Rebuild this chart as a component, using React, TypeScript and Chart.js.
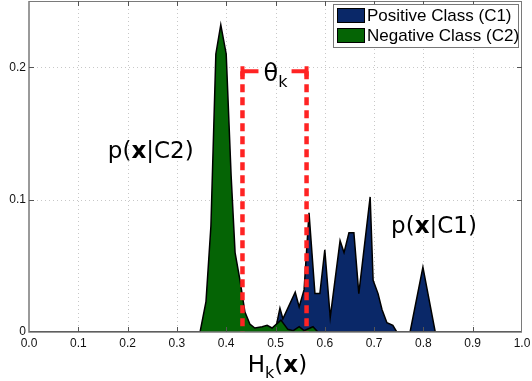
import React, { useEffect, useRef } from "react";
import { Chart, registerables } from "chart.js";

Chart.register(...registerables);

// ---- data ----
const positiveX = [0, 0.499, 0.509, 0.515, 0.540, 0.548, 0.558, 0.568, 0.580, 0.590, 0.600, 0.611, 0.631, 0.639, 0.649, 0.659, 0.669, 0.692, 0.698, 0.708, 0.716, 0.726, 0.738, 0.746, 0.773, 0.799, 0.824, 1];
const positiveY = [0, 0, 0.018, 0.010, 0.030, 0.019, 0.032, 0.090, 0.029, 0.029, 0.062, 0.011, 0.069, 0.060, 0.075, 0.075, 0.029, 0.102, 0.039, 0.029, 0.017, 0.007, 0.005, 0, 0, 0.049, 0, 0];
const negativeX = [0, 0.347, 0.359, 0.369, 0.379, 0.389, 0.400, 0.410, 0.418, 0.428, 0.438, 0.448, 0.458, 0.473, 0.483, 0.493, 0.511, 0.525, 0.536, 0.548, 0.558, 0.576, 0.586, 1];
const negativeY = [0, 0, 0.023, 0.08, 0.21, 0.232, 0.21, 0.118, 0.06, 0.039, 0.015, 0.006, 0.003, 0.004, 0.005, 0.003, 0.009, 0.002, 0.001, 0.004, 0.001, 0.004, 0, 0];
const xTicks = [0, 0.1, 0.2, 0.3, 0.4, 0.5, 0.6, 0.7, 0.8, 0.9, 1.0];
const xTickLabels = ["0.0", "0.1", "0.2", "0.3", "0.4", "0.5", "0.6", "0.7", "0.8", "0.9", "1.0"];
const yTicks = [0, 0.1, 0.2];
const yTickLabels = ["0", "0.1", "0.2"];
const thresholds = [0.433, 0.563];
const bracketLevel = [0.197];
const seriesNames = ["Positive Class (C1)", "Negative Class (C2)"];

const BLUE = "#0a2868";
const GREEN = "#056405";
const RED = "#ff2323";
const SANS = "'Liberation Sans', Arial, sans-serif";
const DEJAVU = "'DejaVu Sans', sans-serif";

type Seg = { t: string; bold?: boolean; sub?: boolean };

function drawRich(ctx: CanvasRenderingContext2D, segs: Seg[], cx: number, baseline: number, size: number) {
  const subSize = Math.round(size * 0.68);
  const fonts = segs.map((s) => `${s.bold ? "bold " : ""}${s.sub ? subSize : size}px ${DEJAVU}`);
  let total = 0;
  const widths = segs.map((s, i) => {
    ctx.font = fonts[i];
    const w = ctx.measureText(s.t).width;
    total += w;
    return w;
  });
  let x = cx - total / 2;
  ctx.textAlign = "left";
  ctx.textBaseline = "alphabetic";
  ctx.fillStyle = "#000";
  segs.forEach((s, i) => {
    ctx.font = fonts[i];
    ctx.fillText(s.t, x, baseline + (s.sub ? size * 0.25 : 0));
    x += widths[i];
  });
}

const decor = {
  id: "decor",
  beforeDatasetsDraw(chart: any) {
    const { ctx, chartArea: a, scales } = chart;
    const xs = scales.x, ys = scales.y;
    ctx.save();
    ctx.strokeStyle = "#c8c8c8";
    ctx.lineWidth = 1;
    ctx.setLineDash([1, 3]);
    xTicks.forEach((v) => {
      if (v <= 0 || v >= 1) return;
      const px = Math.round(xs.getPixelForValue(v)) + 0.5;
      ctx.beginPath();
      ctx.moveTo(px, a.top);
      ctx.lineTo(px, a.bottom);
      ctx.stroke();
    });
    yTicks.forEach((v) => {
      if (v <= 0) return;
      const py = Math.round(ys.getPixelForValue(v)) + 0.5;
      ctx.beginPath();
      ctx.moveTo(a.left, py);
      ctx.lineTo(a.right, py);
      ctx.stroke();
    });
    ctx.restore();
  },
  afterDatasetsDraw(chart: any) {
    const { ctx, chartArea: a, scales } = chart;
    const xs = scales.x, ys = scales.y;
    ctx.save();
    // bracket pieces
    const by = ys.getPixelForValue(bracketLevel[0]);
    const l = xs.getPixelForValue(thresholds[0]);
    const r = xs.getPixelForValue(thresholds[1]);
    ctx.strokeStyle = RED;
    ctx.lineWidth = 4;
    ctx.setLineDash([]);
    ctx.beginPath();
    ctx.moveTo(l - 2, by);
    ctx.lineTo(l + 16, by);
    ctx.moveTo(r - 15, by);
    ctx.lineTo(r + 2, by);
    ctx.moveTo(l, by - 5);
    ctx.lineTo(l, by + 5);
    ctx.moveTo(r, by - 5);
    ctx.lineTo(r, by + 5);
    ctx.stroke();

    // theta_k
    drawRich(ctx, [{ t: "θ" }, { t: "k", sub: true }], (l + r) / 2 + 1, by + 10, 24);
    // p(x|C2), p(x|C1)
    drawRich(ctx, [{ t: "p(" }, { t: "x", bold: true }, { t: "|C2)" }], xs.getPixelForValue(0.247), ys.getPixelForValue(0.1313), 23);
    drawRich(ctx, [{ t: "p(" }, { t: "x", bold: true }, { t: "|C1)" }], xs.getPixelForValue(0.8215), ys.getPixelForValue(0.0747), 23);
    // x title
    drawRich(ctx, [{ t: "H" }, { t: "k", sub: true }, { t: "(" }, { t: "x", bold: true }, { t: ")" }], xs.getPixelForValue(0.504), a.bottom + 40, 23);

    // frame
    ctx.strokeStyle = "#7a7a7a";
    ctx.lineWidth = 1.5;
    ctx.beginPath();
    ctx.moveTo(a.left, a.top);
    ctx.lineTo(a.left, a.bottom);
    ctx.lineTo(a.right, a.bottom);
    ctx.stroke();
    ctx.lineWidth = 1;
    ctx.beginPath();
    ctx.moveTo(a.left, a.top + 0.5);
    ctx.lineTo(a.right, a.top + 0.5);
    ctx.moveTo(a.right - 0.5, a.top);
    ctx.lineTo(a.right - 0.5, a.bottom);
    ctx.stroke();
    // tick marks (inward)
    ctx.strokeStyle = "#555";
    ctx.beginPath();
    xTicks.forEach((v) => {
      if (v <= 0 || v >= 1) return;
      const px = Math.round(xs.getPixelForValue(v)) + 0.5;
      ctx.moveTo(px, a.top);
      ctx.lineTo(px, a.top + 5);
      ctx.moveTo(px, a.bottom);
      ctx.lineTo(px, a.bottom - 5);
    });
    yTicks.forEach((v) => {
      if (v <= 0) return;
      const py = Math.round(ys.getPixelForValue(v)) + 0.5;
      ctx.moveTo(a.left, py);
      ctx.lineTo(a.left + 5, py);
      ctx.moveTo(a.right, py);
      ctx.lineTo(a.right - 5, py);
    });
    ctx.stroke();

    // legend
    const bx = a.right - 189, byy = a.top + 3, bw = 185, bh = 43;
    ctx.fillStyle = "#fff";
    ctx.fillRect(bx, byy, bw, bh);
    ctx.strokeStyle = "#777";
    ctx.lineWidth = 1;
    ctx.strokeRect(bx + 0.5, byy + 0.5, bw, bh);
    const colors = [BLUE, GREEN];
    seriesNames.forEach((name, i) => {
      const sy = byy + 4 + i * 20;
      ctx.fillStyle = colors[i];
      ctx.fillRect(bx + 4, sy, 28, 15);
      ctx.strokeStyle = "#000";
      ctx.lineWidth = 1;
      ctx.strokeRect(bx + 4.5, sy + 0.5, 27, 14);
      ctx.fillStyle = "#000";
      ctx.font = `17px ${SANS}`;
      ctx.textAlign = "left";
      ctx.textBaseline = "middle";
      ctx.fillText(name, bx + 34, sy + 8);
    });
    ctx.restore();
  },
};

export default function App() {
  const ref = useRef<HTMLCanvasElement | null>(null);
  useEffect(() => {
    if (!ref.current) return;
    const pts = (xs: number[], ys: number[]) => xs.map((x, i) => ({ x, y: ys[i] }));
    const vline = (v: number) => [
      { x: v, y: bracketLevel[0] },
      { x: v, y: 0 },
    ];
    const redLine = (v: number) => ({
      label: "threshold",
      data: vline(v),
      borderColor: RED,
      borderWidth: 4.5,
      borderDash: [8, 5],
      pointRadius: 0,
      fill: false,
      order: -1,
    });
    const chart = new Chart(ref.current, {
      type: "line",
      data: {
        datasets: [
          {
            label: seriesNames[0],
            data: pts(positiveX, positiveY),
            backgroundColor: BLUE,
            borderColor: "#000",
            borderWidth: 1.5,
            pointRadius: 0,
            fill: "origin",
            tension: 0,
            order: 2,
          },
          {
            label: seriesNames[1],
            data: pts(negativeX, negativeY),
            backgroundColor: GREEN,
            borderColor: "#000",
            borderWidth: 1.5,
            pointRadius: 0,
            fill: "origin",
            tension: 0,
            order: 1,
          },
          redLine(thresholds[0]),
          redLine(thresholds[1]),
        ] as any,
      },
      options: {
        animation: false,
        responsive: false,
        layout: { padding: { top: 1, right: 10, left: 0, bottom: 0 } },
        plugins: { legend: { display: false }, tooltip: { enabled: false } },
        scales: {
          x: {
            type: "linear",
            min: 0,
            max: 1,
            grid: { display: false, drawTicks: false },
            border: { display: false },
            afterBuildTicks: (s: any) => {
              s.ticks = xTicks.map((v) => ({ value: v }));
            },
            afterFit: (s: any) => {
              s.height = 49;
              s.paddingLeft = 0;
              s.paddingRight = 0;
            },
            ticks: {
              padding: 4,
              color: "#111",
              font: { family: SANS, size: 12 },
              maxRotation: 0,
              autoSkip: false,
              callback: (_v: any, i: number) => xTickLabels[i],
            },
          },
          y: {
            type: "linear",
            min: 0,
            max: 0.25,
            grid: { display: false, drawTicks: false },
            border: { display: false },
            afterBuildTicks: (s: any) => {
              s.ticks = yTicks.map((v) => ({ value: v }));
            },
            afterFit: (s: any) => {
              s.width = 29;
              s.paddingTop = 0;
              s.paddingBottom = 0;
            },
            ticks: {
              padding: 3,
              color: "#111",
              font: { family: SANS, size: 12 },
              autoSkip: false,
              callback: (_v: any, i: number) => yTickLabels[i],
            },
          },
        },
      } as any,
      plugins: [decor],
    });
    return () => chart.destroy();
  }, []);
  return (
    <div style={{ position: "fixed", left: 0, top: 0, width: 532, height: 381, background: "#fff" }}>
      <canvas ref={ref} width={532} height={381} style={{ width: 532, height: 381, display: "block" }} />
    </div>
  );
}
